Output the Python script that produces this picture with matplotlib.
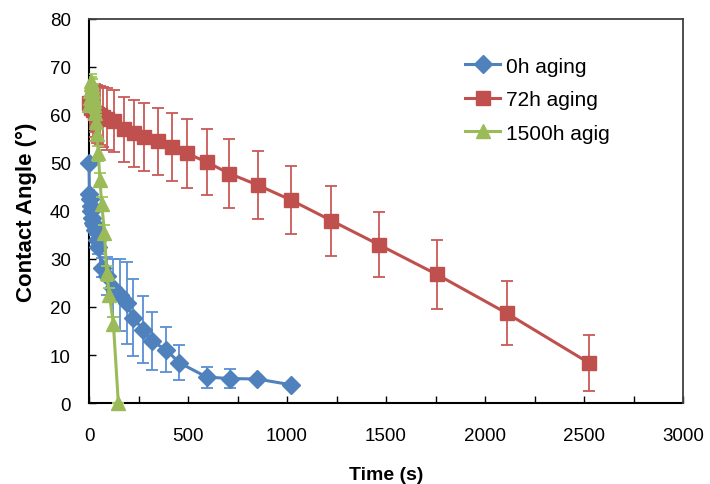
import matplotlib
matplotlib.use("Agg")
import matplotlib.pyplot as plt
from matplotlib.ticker import MultipleLocator

plt.rcParams['font.family'] = ['Liberation Sans', 'DejaVu Sans']

# 0h aging
t_0h = [0, 2, 5, 8, 12, 16, 20, 25, 30, 40, 47, 64, 90, 123, 157, 190, 224, 271, 316, 389, 456, 594, 712, 850, 1019]
ca_0h = [50, 43.5, 42.5, 41, 40, 38.5, 37.5, 37, 36, 34, 32.5, 28.2, 26.5, 24, 22.6, 20.8, 17.8, 15.3, 12.9, 11.1, 8.4, 5.4, 5.1, 5.0, 3.8]
err_0h = [0.8, 0.8, 0.8, 1, 1, 1, 1, 1, 1, 1.5, 1.5, 2, 4, 6, 7.5, 8.5, 8, 7, 6, 4.7, 3.6, 2.2, 2, 0, 0]

# 72h aging
t_72h = [0, 5, 10, 18, 28, 40, 55, 72, 89, 125, 176, 228, 278, 348, 418, 495, 594, 709, 852, 1019, 1224, 1463, 1756, 2110, 2527]
ca_72h = [62.5, 62, 61.5, 61, 60.5, 60.2, 59.9, 59.6, 59.2, 58.7, 57.0, 56.2, 55.4, 54.5, 53.3, 52.0, 50.2, 47.8, 45.4, 42.3, 38.0, 33.0, 26.8, 18.7, 8.3]
err_72h = [4, 4.5, 5, 5.5, 6, 6, 6.2, 6.3, 6.5, 6.5, 6.8, 7, 7, 7, 7.1, 7.2, 6.9, 7.1, 7.1, 7.0, 7.3, 6.7, 7.2, 6.7, 5.8]

# 1500h aging
t_1500h = [0, 3, 6, 9, 12, 15, 18, 21, 24, 27, 30, 35, 40, 47, 55, 64, 78, 89, 103, 123, 148]
ca_1500h = [62, 63.5, 65, 66.5, 67, 66, 65, 64, 63, 62, 60.5, 58.5, 56, 52, 46.5, 41.5, 35.5, 27, 22.5, 16.5, 0]
err_1500h = [1.5, 1.5, 1.5, 1.5, 1.5, 1.5, 1.5, 1.5, 1.5, 1.5, 1.5, 1.5, 1.5, 1.5, 1.5, 1.5, 1.5, 1.5, 1.5, 1.5, 0]

labels = ['0h aging', '72h aging', '1500h agig']

fig = plt.figure(figsize=(7.1, 4.85), dpi=100)
ax = fig.add_axes([0.1254, 0.167, 0.962 - 0.1254, 0.9588 - 0.167])

series = [
    (t_0h, ca_0h, err_0h, '#4F81BD', '#5A8FD6', 'D', 9),
    (t_72h, ca_72h, err_72h, '#C0504D', '#C85A57', 's', 10),
    (t_1500h, ca_1500h, err_1500h, '#9BBB59', '#9BCB59', '^', 10),
]
for i, (t, y, e, c, ec, m, ms) in enumerate(series):
    ax.errorbar(t, y, yerr=e, fmt='none', ecolor=ec, elinewidth=1.3,
                capsize=4, capthick=1.3, zorder=2 + i * 2)
    ax.plot(t, y, color=c, marker=m, markersize=ms, linewidth=2.2,
            markeredgecolor=c, label=labels[i], zorder=3 + i * 2,
            clip_on=False)

ax.set_xlim(0, 3000)
ax.set_ylim(0, 80)
ax.xaxis.set_major_locator(MultipleLocator(500))
ax.xaxis.set_minor_locator(MultipleLocator(250))
ax.yaxis.set_major_locator(MultipleLocator(10))
ax.tick_params(axis='both', which='both', direction='in',
               length=5, width=1, colors='black', labelsize=13.5)
ax.tick_params(axis='x', which='major', pad=17)
ax.tick_params(axis='y', which='major', pad=13)

for s in ['left', 'bottom']:
    ax.spines[s].set_color('black')
    ax.spines[s].set_linewidth(1.5)
    ax.spines[s].set_zorder(1)
for s in ['top', 'right']:
    ax.spines[s].set_color('#404040')
    ax.spines[s].set_linewidth(1.3)

ax.set_xlabel('Time (s)', fontsize=14, fontweight='bold', labelpad=16)
ax.set_ylabel('Contact Angle (°)', fontsize=16, fontweight='bold', labelpad=9)

leg = ax.legend(loc='upper left', bbox_to_anchor=(0.633, 0.902), frameon=False,
                fontsize=15, handlelength=1.7, handletextpad=0.25,
                labelspacing=0.7, borderaxespad=0, borderpad=0)

fig.savefig('out.png', dpi=100)
